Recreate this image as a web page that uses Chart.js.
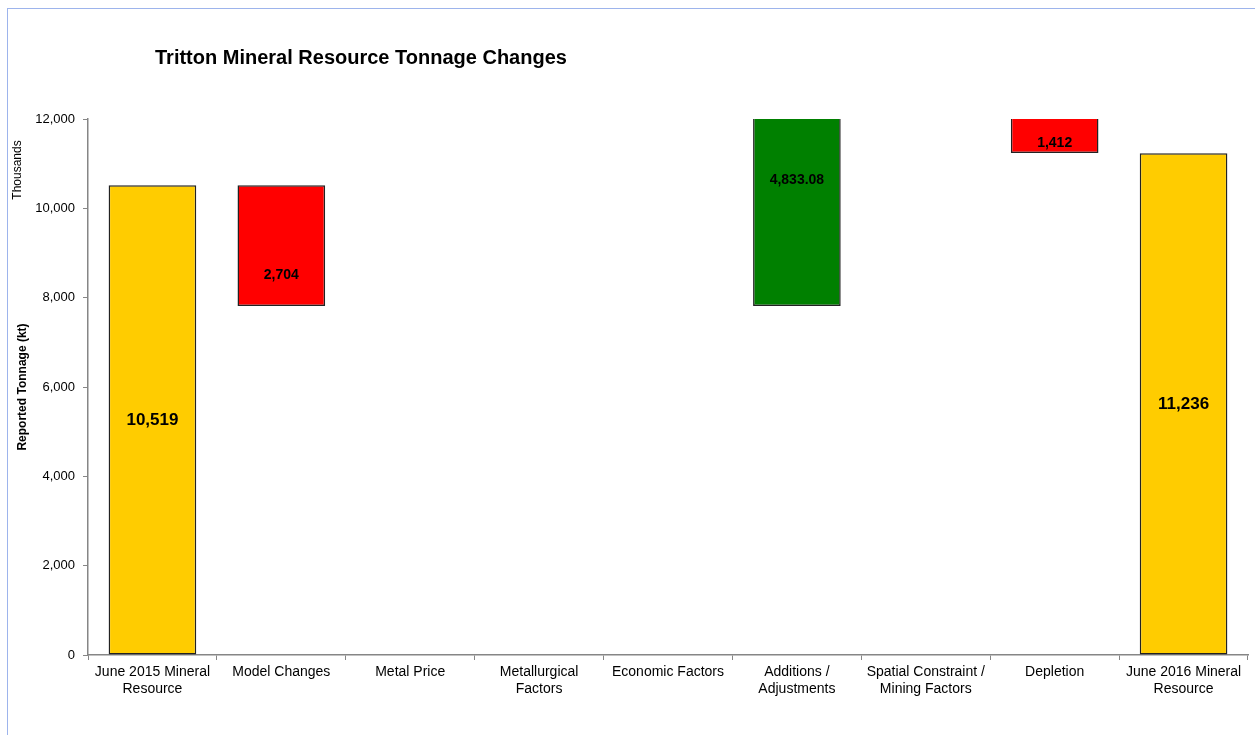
<!DOCTYPE html>
<html>
<head>
<meta charset="utf-8">
<script src="https://cdn.jsdelivr.net/npm/chart.js@4.4.1/dist/chart.umd.min.js"></script>
<style>
  body { margin: 0; background: #fff; overflow: hidden; }
  #frame { position: absolute; left: 7px; top: 8px; width: 1400px; height: 900px; border: 1px solid #9db4ec; }
  #title { position: absolute; left: 155px; top: 46px; font: bold 20px "Liberation Sans", Arial, sans-serif; color: #000; }
  #wrap { position: absolute; left: 0; top: 0; width: 1255px; height: 735px; }
</style>
</head>
<body>
<div id="frame"></div>
<div id="wrap"><canvas id="waterfall" width="1255" height="735"></canvas></div>
<div id="title">Tritton Mineral Resource Tonnage Changes</div>
<script>
// categories and values (kt, in thousands)
const categories = [
    ['June 2015 Mineral', 'Resource'], 'Model Changes', 'Metal Price', ['Metallurgical', 'Factors'],
    'Economic Factors', ['Additions /', 'Adjustments'], ['Spatial Constraint /', 'Mining Factors'],
    'Depletion', ['June 2016 Mineral', 'Resource']
];
const opening = 10519;
const changes = [-2704, 0, 0, 0, 4833.08, 0, -1412];   // middle categories
const closing = 11236;
const valueLabels = ['10,519', '2,704', '', '', '', '4,833.08', '', '1,412', '11,236'];
const labelAt = [5260, 8510, null, null, null, 10640, null, 11470, 5618];  // where the label sits
const yTicks = [0, 2000, 4000, 6000, 8000, 10000, 12000];

// floating bars built from the running total
const bars = [[0, opening]];
const colors = ['#FFCC00'];
let running = opening;
changes.forEach(c => {
    if (c === 0) { bars.push(null); colors.push('#fff'); return; }
    bars.push([running, running + c].sort((a, b) => a - b));
    colors.push(c < 0 ? '#FF0000' : '#008000');
    running += c;
});
bars.push([0, closing]);
colors.push('#FFCC00');

const font = "'Liberation Sans', Arial, sans-serif";

const extras = {
    id: 'extras',
    afterDatasetsDraw(chart) {
        const ctx = chart.ctx;
        const x = chart.scales.x, y = chart.scales.y;
        ctx.save();
        ctx.fillStyle = '#000';
        ctx.textAlign = 'center';
        ctx.textBaseline = 'middle';
        valueLabels.forEach((t, i) => {
            if (!t) return;
            const big = (i === 0 || i === categories.length - 1);
            ctx.font = 'bold ' + (big ? 17 : 14) + 'px ' + font;
            ctx.fillText(t, x.getPixelForValue(i), y.getPixelForValue(labelAt[i]));
        });
        // "Thousands" unit label
        ctx.translate(18, y.top + 51);
        ctx.rotate(-Math.PI / 2);
        ctx.font = '12px ' + font;
        ctx.fillText('Thousands', 0, 0);
        ctx.restore();
    }
};

new Chart(document.getElementById('waterfall').getContext('2d'), {
    type: 'bar',
    data: {
        labels: categories,
        datasets: [{
            data: bars,
            backgroundColor: colors,
            borderColor: '#222',
            borderWidth: 1.5,
            borderSkipped: false,
            categoryPercentage: 1,
            barPercentage: 0.68,
            clip: 0
        }]
    },
    options: {
        responsive: false,
        animation: false,
        devicePixelRatio: 1,
        layout: { padding: { left: 15, top: 119, right: 7, bottom: 0 } },
        plugins: { legend: { display: false }, tooltip: { enabled: false } },
        scales: {
            x: {
                grid: { display: true, drawOnChartArea: false, offset: true, tickLength: 5, color: '#868686' },
                border: { color: '#868686', width: 1.5 },
                ticks: { color: '#000', font: { family: font, size: 14 }, maxRotation: 0, autoSkip: false, padding: 4 },
                afterFit(s) { s.height = 80; }
            },
            y: {
                min: 0,
                max: 12000,
                afterBuildTicks(s) { s.ticks = yTicks.map(v => ({ value: v })); },
                grid: { drawOnChartArea: false, tickLength: 5, color: '#868686' },
                border: { color: '#868686', width: 1.5 },
                ticks: {
                    color: '#000', font: { family: font, size: 13 }, padding: 8,
                    callback: v => v.toLocaleString('en-US')
                },
                title: { display: true, text: 'Reported Tonnage (kt)', color: '#000', font: { family: font, size: 12, weight: 'bold' }, padding: 0 },
                afterFit(s) { s.width = 73; }
            }
        }
    },
    plugins: [extras]
});
</script>
</body>
</html>
